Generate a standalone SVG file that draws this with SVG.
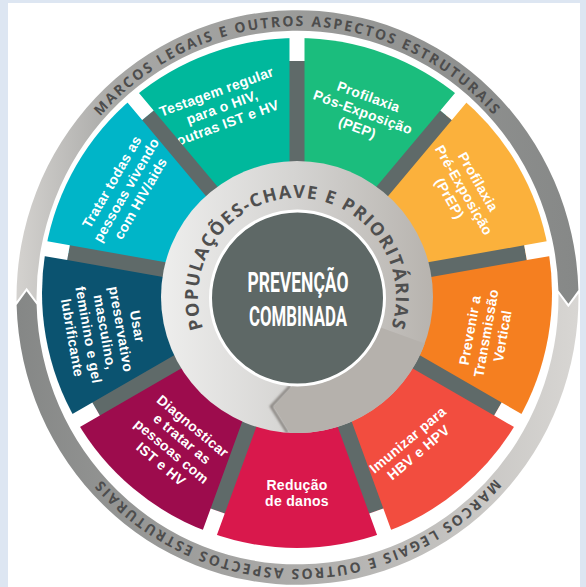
<svg xmlns="http://www.w3.org/2000/svg" width="586" height="587" viewBox="0 0 586 587">
<defs>
<style>
.seg-label{font-family:"Liberation Sans",Arial,sans-serif;font-weight:700;font-size:14px;letter-spacing:0.3px;fill:#ffffff;text-anchor:middle}
.ring-label{font-family:"Open Sans","DejaVu Sans",sans-serif;font-weight:700;font-size:14px;fill:#4d4d4d;letter-spacing:2.1px}
.pop-label{font-family:"Open Sans","DejaVu Sans",sans-serif;font-weight:700;font-size:18px;fill:#4f4f4f;letter-spacing:1.5px}
.center-label{font-family:Roboto,"DejaVu Sans",sans-serif;font-weight:700;font-size:27px;fill:#ffffff;text-anchor:middle}
.divider{stroke:#5f6a69;stroke-width:15;fill:none}
.gap{stroke:#ffffff;stroke-width:15;fill:none}
</style>
<linearGradient id="gTop" gradientUnits="userSpaceOnUse" x1="-281" y1="0" x2="281" y2="0">
<stop offset="0" stop-color="#d4d2cf"/>
<stop offset="0.18" stop-color="#a8a8a6"/>
<stop offset="1" stop-color="#868887"/>
</linearGradient>
<linearGradient id="gBot" gradientUnits="userSpaceOnUse" x1="281" y1="0" x2="-281" y2="0">
<stop offset="0" stop-color="#d8d6d3"/>
<stop offset="0.5" stop-color="#adacaa"/>
<stop offset="1" stop-color="#858786"/>
</linearGradient>
<linearGradient id="gRing" gradientUnits="userSpaceOnUse" x1="160" y1="297" x2="434" y2="297">
<stop offset="0" stop-color="#eeeeed"/>
<stop offset="0.5" stop-color="#d4d3d1"/>
<stop offset="1" stop-color="#b7b3ae"/>
</linearGradient>
<filter id="blur" x="-50%" y="-50%" width="200%" height="200%"><feGaussianBlur stdDeviation="1.3"/></filter>
<clipPath id="ringClip"><circle cx="297" cy="297" r="136"/></clipPath>
<path id="ringTop" d="M -265 0 A 265 265 0 0 1 265 0"/>
<path id="ringBot" d="M 265 0 A 265 265 0 0 1 -265 0"/>
<path id="popPath" d="M 211.26 346.5 A 99 99 0 1 1 382.74 346.5"/>
</defs>

<rect x="0" y="0" width="586" height="587" fill="#dde6f2"/>
<rect x="8" y="3" width="572" height="584" fill="#ffffff"/>

<g id="seg-testagem">
<path d="M 297 293 L 133.1 97.7 A 255 255 0 0 1 297 38 Z" fill="#00b89c"/>
<text class="seg-label" transform="translate(222 107) rotate(-20)"><tspan x="0" y="-11.5">Testagem regular</tspan><tspan x="0" y="5">para o HIV,</tspan><tspan x="0" y="21.5">outras IST e HV</tspan></text>
</g>
<g id="seg-pep">
<path d="M 297 293 L 297 38 A 255 255 0 0 1 460.9 97.7 Z" fill="#1bbd7d"/>
<text class="seg-label" transform="translate(363 112) rotate(20)"><tspan x="0" y="-11.5">Profilaxia</tspan><tspan x="0" y="5">Pós-Exposição</tspan><tspan x="0" y="21.5">(PEP)</tspan></text>
</g>
<g id="seg-prep">
<path d="M 297 293 L 460.9 97.7 A 255 255 0 0 1 548.1 248.7 Z" fill="#fbb13c"/>
<text class="seg-label" transform="translate(464 190) rotate(60)"><tspan x="0" y="-11.5">Profilaxia</tspan><tspan x="0" y="5">Pré-Exposição</tspan><tspan x="0" y="21.5">(PrEP)</tspan></text>
</g>
<g id="seg-prevenir">
<path d="M 297 293 L 548.1 248.7 A 255 255 0 0 1 517.8 420.5 Z" fill="#f57f20"/>
<text class="seg-label" transform="translate(486 333) rotate(-80)"><tspan x="0" y="-11.5">Prevenir a</tspan><tspan x="0" y="5">Transmissão</tspan><tspan x="0" y="21.5">Vertical</tspan></text>
</g>
<g id="seg-imunizar">
<path d="M 297 293 L 517.8 420.5 A 255 255 0 0 1 384.2 532.6 Z" fill="#f24d3f"/>
<text class="seg-label" transform="translate(413 446) rotate(-40)"><tspan x="0" y="-3.25">Imunizar para</tspan><tspan x="0" y="13.25">HBV e HPV</tspan></text>
</g>
<g id="seg-reducao">
<path d="M 297 293 L 384.2 532.6 A 255 255 0 0 1 209.8 532.6 Z" fill="#d9184c"/>
<text class="seg-label" transform="translate(297 493)"><tspan x="0" y="-3.25">Redução</tspan><tspan x="0" y="13.25">de danos</tspan></text>
</g>
<g id="seg-diagnosticar">
<path d="M 297 293 L 209.8 532.6 A 255 255 0 0 1 76.2 420.5 Z" fill="#9d0c4d"/>
<text class="seg-label" transform="translate(177 445) rotate(40)"><tspan x="0" y="-19.75">Diagnosticar</tspan><tspan x="0" y="-3.25">e tratar as</tspan><tspan x="0" y="13.25">pessoas com</tspan><tspan x="0" y="29.75">IST e HV</tspan></text>
</g>
<g id="seg-usar">
<path d="M 297 293 L 76.2 420.5 A 255 255 0 0 1 45.9 248.7 Z" fill="#0b5370"/>
<text class="seg-label" transform="translate(105 332) rotate(80)"><tspan x="0" y="-28">Usar</tspan><tspan x="0" y="-11.5">preservativo</tspan><tspan x="0" y="5">masculino,</tspan><tspan x="0" y="21.5">feminino e gel</tspan><tspan x="0" y="38">lubrificante</tspan></text>
</g>
<g id="seg-tratar">
<path d="M 297 293 L 45.9 248.7 A 255 255 0 0 1 133.1 97.7 Z" fill="#00b5c8"/>
<text class="seg-label" transform="translate(126 190) rotate(-60)"><tspan x="0" y="-11.5">Tratar todas as</tspan><tspan x="0" y="5">pessoas vivendo</tspan><tspan x="0" y="21.5">com HIV/aids</tspan></text>
</g>

<g id="dividers">
<path class="divider" d="M 297 293 L 297 61 M 297 293 L 446.1 115.3 M 297 293 L 525.5 252.7 M 297 293 L 497.9 409 M 297 293 L 376.3 511 M 297 293 L 217.7 511 M 297 293 L 96.1 409 M 297 293 L 68.5 252.7 M 297 293 L 147.9 115.3"/>
<path class="gap" d="M 297 61 L 297 31 M 446.1 115.3 L 465.4 92.3 M 525.5 252.7 L 555 247.5 M 497.9 409 L 523.9 424 M 376.3 511 L 386.6 539.2 M 217.7 511 L 207.4 539.2 M 96.1 409 L 70.1 424 M 68.5 252.7 L 39 247.5 M 147.9 115.3 L 128.6 92.3"/>
</g>

<g id="populacoes">
<circle cx="297" cy="297" r="136" fill="url(#gRing)"/>
<polyline points="287.6,432.8 271.2,406.5 290.3,385.9" fill="none" stroke="#8a8682" stroke-width="3" filter="url(#blur)" clip-path="url(#ringClip)"/>
<path d="M 424.8 343.5 A 136 136 0 0 1 289.9 432.8 L 273.7 406.5 L 292.3 385.9 A 89 89 0 0 0 380.6 327.4 Z" fill="#b5b1ac"/>
<text class="pop-label"><textPath href="#popPath" startOffset="50%" text-anchor="middle">POPULAÇÕES-CHAVE E PRIORITÁRIAS</textPath></text>
</g>

<g id="prevencao">
<circle cx="297.5" cy="298" r="87" fill="#5e6866" stroke="#ffffff" stroke-width="3"/>
<text class="center-label" x="298" y="292" textLength="101" lengthAdjust="spacingAndGlyphs">PREVENÇÃO</text>
<text class="center-label" x="298" y="326" textLength="98" lengthAdjust="spacingAndGlyphs">COMBINADA</text>
</g>

<g id="marcos" transform="translate(297.5 297.5) scale(1 1.024)">
<path d="M -280.97 3.92 A 281 281 0 0 1 280.9 -7.36 L 270.93 6.15 L 260.91 -6.83 A 261 261 0 0 0 -260.97 3.64 L -270.83 -9.46 Z" fill="url(#gTop)"/>
<path d="M 280.97 -3.92 A 281 281 0 0 1 -280.9 7.36 L -270.93 -6.15 L -260.91 6.83 A 261 261 0 0 0 260.97 -3.64 L 270.83 9.46 Z" fill="url(#gBot)"/>
<text class="ring-label"><textPath href="#ringTop" startOffset="50%" text-anchor="middle">MARCOS LEGAIS E OUTROS ASPECTOS ESTRUTURAIS</textPath></text>
<text class="ring-label"><textPath href="#ringBot" startOffset="50%" text-anchor="middle">MARCOS LEGAIS E OUTROS ASPECTOS ESTRUTURAIS</textPath></text>
</g>
</svg>
